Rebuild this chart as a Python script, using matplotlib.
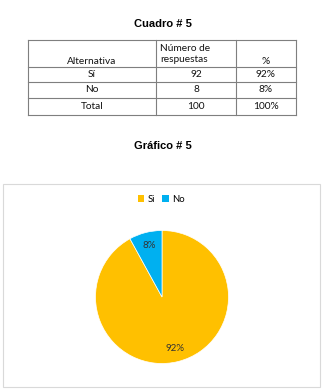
import matplotlib
matplotlib.use("Agg")
import matplotlib.pyplot as plt
from matplotlib.patches import Rectangle, Patch

# ---- data ----
table_title = "Cuadro # 5"
chart_title = "Gráfico # 5"
col_headers = ["Alternativa", "Número de\nrespuestas", "%"]
row_labels = ["Sí", "No", "Total"]
responses = [92, 8, 100]
percents = ["92%", "8%", "100%"]
pie_labels = ["Si", "No"]
pie_values = [92, 8]
pie_colors = ["#FFC000", "#00B0F0"]

W, H = 326, 390
fig = plt.figure(figsize=(W / 100, H / 100), dpi=100)
fig.patch.set_facecolor("white")

# overlay axes in pixel coordinates
ov = fig.add_axes([0, 0, 1, 1])
ov.set_xlim(0, W)
ov.set_ylim(H, 0)
ov.axis("off")

title_font = dict(family="Liberation Sans", fontsize=8, fontweight="bold", color="black")
cell_font = dict(family="Lato", fontsize=7.3, color="#111111")

ov.text(163, 24, table_title, ha="center", va="center", **title_font)

# table grid
xs = [28, 156, 236, 296]
ys = [40, 67, 82, 98, 115]
gc = "#7f7f7f"
for x in xs:
    ov.plot([x, x], [ys[0], ys[-1]], color=gc, lw=0.8)
for y in ys:
    ov.plot([xs[0], xs[-1]], [y, y], color=gc, lw=0.8)

# header
ov.text((xs[0] + xs[1]) / 2, 61, col_headers[0], ha="center", va="center", **cell_font)
ov.text(xs[1] + 4, 54, col_headers[1], ha="left", va="center", linespacing=1.35, **cell_font)
ov.text((xs[2] + xs[3]) / 2, 61, col_headers[2], ha="center", va="center", **cell_font)

for i, (lab, n, p) in enumerate(zip(row_labels, responses, percents)):
    yc = (ys[i + 1] + ys[i + 2]) / 2
    ov.text((xs[0] + xs[1]) / 2, yc, lab, ha="center", va="center", **cell_font)
    ov.text((xs[1] + xs[2]) / 2, yc, str(n), ha="center", va="center", **cell_font)
    ov.text((xs[2] + xs[3]) / 2, yc, p, ha="center", va="center", **cell_font)

ov.text(163, 146, chart_title, ha="center", va="center", **title_font)

# chart box
ov.add_patch(Rectangle((3, 184), 317, 203, fill=False, edgecolor="#d9d9d9", lw=0.8))

# pie
cx, cy, r = 162, 297, 66.5
pax = fig.add_axes([(cx - r) / W, (H - cy - r) / H, 2 * r / W, 2 * r / H])
wedges, texts, autotexts = pax.pie(
    pie_values, colors=pie_colors, startangle=90, counterclock=False,
    autopct="%1.0f%%", pctdistance=0.8, radius=1,
    wedgeprops=dict(edgecolor="white", linewidth=0.5),
    textprops=dict(family="Lato", fontsize=7.0, color="#333333"))
pax.set_xlim(-1, 1)
pax.set_ylim(-1, 1)
pax.set_aspect("equal")
pax.axis("off")

handles = [Patch(facecolor=c, edgecolor="none") for c in pie_colors]
fig.legend(handles, pie_labels, loc="center", bbox_to_anchor=(161 / W, 1 - 199 / H),
           ncol=2, frameon=False, handlelength=0.7, handleheight=0.7,
           handletextpad=0.3, columnspacing=0.8,
           prop=dict(family="Lato", size=6.8))

fig.savefig("out.png", dpi=100, facecolor="white")
